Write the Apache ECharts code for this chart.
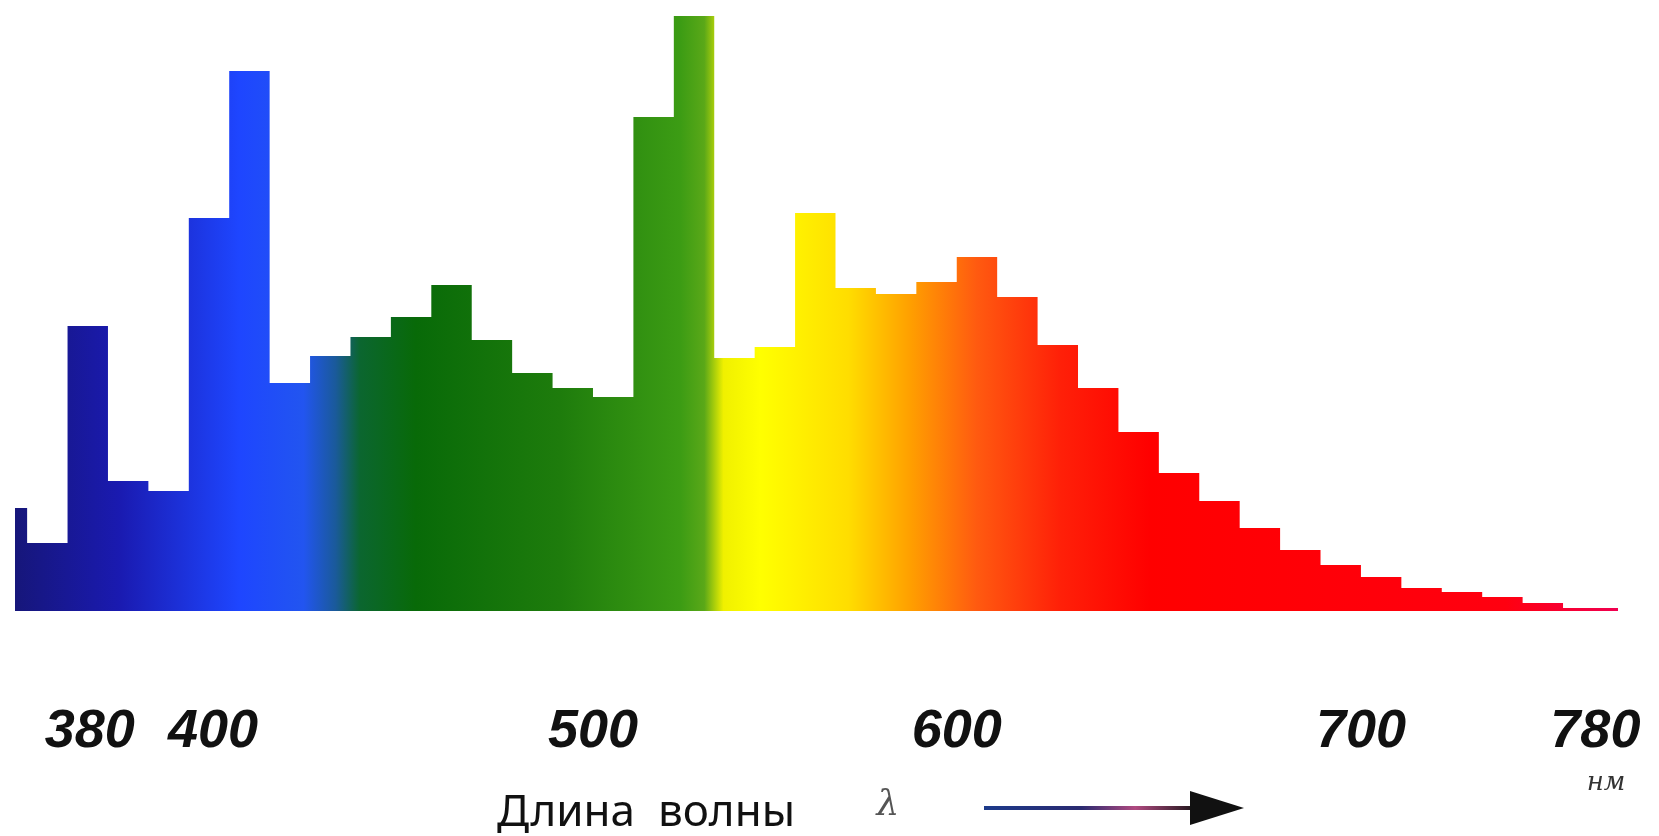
<!DOCTYPE html>
<html>
<head>
<meta charset="utf-8">
<script src="https://cdn.jsdelivr.net/npm/echarts@6/dist/echarts.min.js"></script>
<style>
  html, body { margin: 0; padding: 0; background: #fff; }
  #chart { width: 1659px; height: 836px; }
</style>
</head>
<body>
<div id="chart"></div>
<script>
// относительная интенсивность по полосам спектра (полоса i занимает [i, i+1])
const intensity = [103, 68, 285, 130, 120, 393, 540, 228, 255, 274,
                   294, 326, 271, 238, 223, 214, 494, 595, 253, 264,
                   398, 323, 317, 329, 354, 314, 266, 223, 179, 138,
                   110, 83, 61, 46, 34, 23, 19, 14, 8, 3, 3];
// подписи длин волн и где они стоят на шкале полос
const tickPositions = [2.55, 5.6, 15, 24, 34, 39.8];
const tickLabels = ['380', '400', '500', '600', '700', '780'];

const gridLeft = 15, gridRight = 41;
const W = 1659;

var chartDom = document.getElementById('chart');
var myChart = echarts.init(chartDom);

// точки ступенчатой линии: левый край каждой полосы + правый край последней
var stepData = intensity.map(function (v, i) { return [i, v]; });
stepData.push([intensity.length, intensity[intensity.length - 1]]);

// спектральная заливка слева направо
var spectrum = new echarts.graphic.LinearGradient(gridLeft, 0, W - gridRight, 0, [
  { offset: 0, color: '#16167a' },
  { offset: 0.065, color: '#1a1ab0' },
  { offset: 0.14, color: '#1e46ff' },
  { offset: 0.18, color: '#2255f0' },
  { offset: 0.2, color: '#1a5a9a' },
  { offset: 0.215, color: '#0b6630' },
  { offset: 0.25, color: '#086a08' },
  { offset: 0.34, color: '#1e7c0c' },
  { offset: 0.415, color: '#3c9c14' },
  { offset: 0.43, color: '#5aa818' },
  { offset: 0.442, color: '#f0f000' },
  { offset: 0.465, color: '#ffff00' },
  { offset: 0.52, color: '#ffdd00' },
  { offset: 0.558, color: '#ffa000' },
  { offset: 0.6, color: '#ff5a10' },
  { offset: 0.652, color: '#ff2008' },
  { offset: 0.708, color: '#ff0000' },
  { offset: 0.93, color: '#ff0010' },
  { offset: 1, color: '#f00050' }
], true);

let option = {
  backgroundColor: '#ffffff',
  animation: false,
  grid: {
    left: gridLeft,
    right: gridRight,
    top: 11,
    bottom: 225
  },
  xAxis: {
    type: 'value',
    min: 0.7,
    max: 40.36,
    axisLine: { show: false },
    axisTick: { show: false },
    splitLine: { show: false },
    axisLabel: {
      customValues: tickPositions,
      formatter: function (v) {
        var k = tickPositions.indexOf(v);
        return k >= 0 ? tickLabels[k] : '';
      },
      margin: 94,
      color: '#111',
      fontSize: 54,
      fontWeight: 'bold',
      fontStyle: 'italic',
      fontFamily: 'Liberation Sans'
    }
  },
  yAxis: {
    type: 'value',
    min: 0,
    max: 600,
    show: false
  },
  series: [
    {
      type: 'line',
      step: 'end',
      data: stepData,
      showSymbol: false,
      lineStyle: { width: 0, opacity: 0 },
      areaStyle: { color: spectrum, opacity: 1 }
    }
  ],
  graphic: [
    {
      type: 'text',
      x: 497, y: 813,
      style: {
        text: 'Длина  волны',
        font: '44px "Noto Sans"',
        fill: '#111',
        align: 'left', verticalAlign: 'middle',
        textAlign: 'left', textVerticalAlign: 'middle'
      }
    },
    {
      type: 'text',
      x: 888, y: 806,
      style: {
        text: 'λ',
        font: 'italic 36px "DejaVu Serif"',
        fill: '#555',
        align: 'center', verticalAlign: 'middle',
        textAlign: 'center', textVerticalAlign: 'middle'
      }
    },
    {
      type: 'line',
      shape: { x1: 984, y1: 808, x2: 1200, y2: 808 },
      style: {
        lineWidth: 4,
        stroke: new echarts.graphic.LinearGradient(984, 0, 1200, 0, [
          { offset: 0, color: '#1c3a8a' },
          { offset: 0.45, color: '#2a2a70' },
          { offset: 0.7, color: '#b04a80' },
          { offset: 1, color: '#111' }
        ], true)
      }
    },
    {
      type: 'polygon',
      shape: { points: [[1190, 791], [1244, 808], [1190, 825]] },
      style: { fill: '#111' }
    },
    {
      type: 'text',
      x: 1606, y: 783,
      style: {
        text: 'нм',
        font: 'italic 26px "DejaVu Serif"',
        fill: '#333',
        align: 'center', verticalAlign: 'middle',
        textAlign: 'center', textVerticalAlign: 'middle'
      }
    }
  ]
};
option && myChart.setOption(option);
</script>
</body>
</html>
